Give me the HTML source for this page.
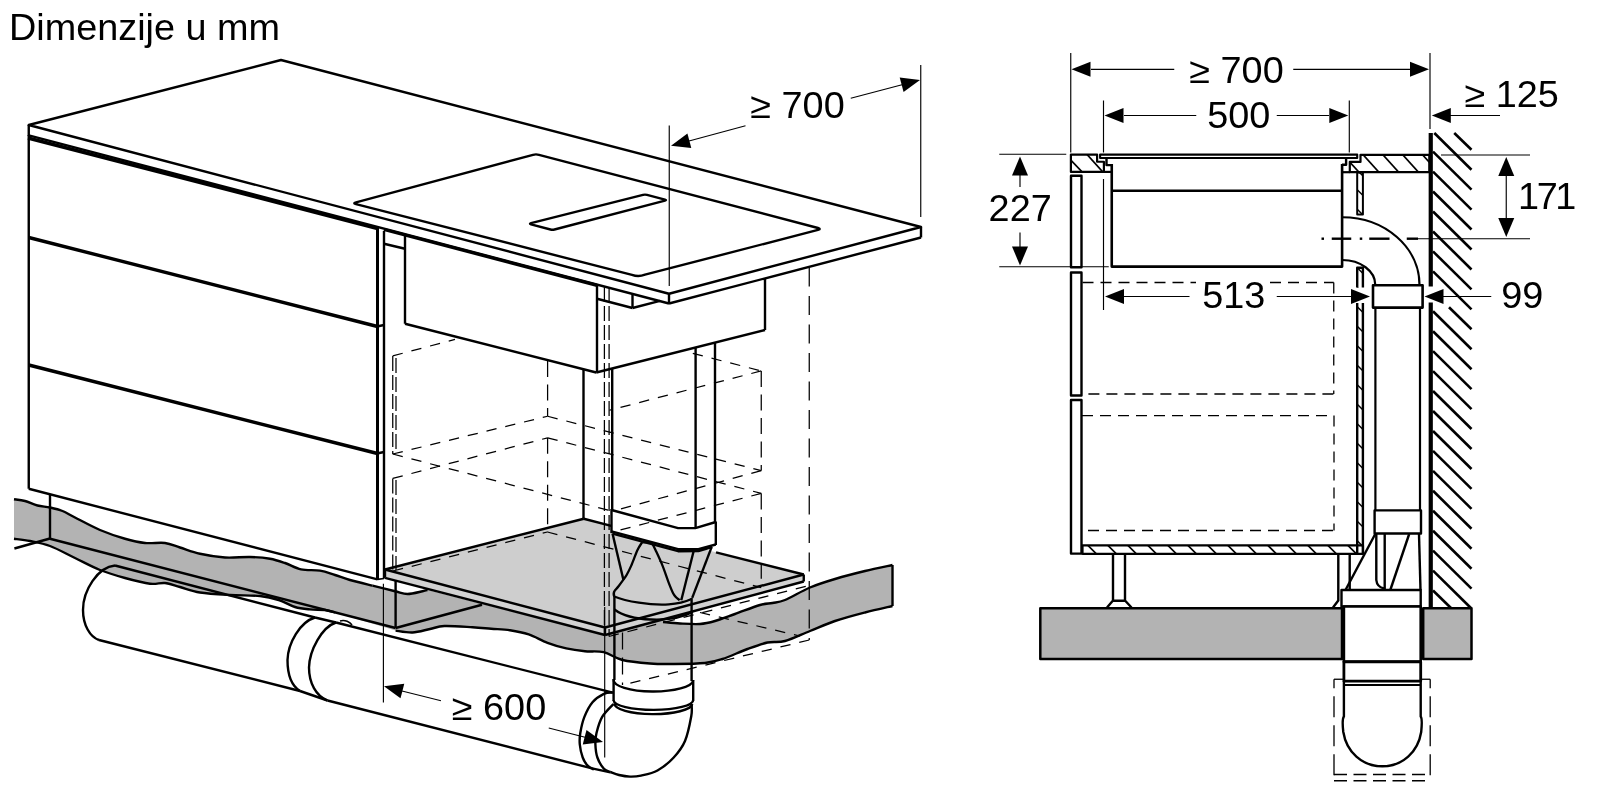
<!DOCTYPE html>
<html><head><meta charset="utf-8"><title>Dimenzije u mm</title>
<style>
html,body{margin:0;padding:0;background:#fff;overflow:hidden}
svg{display:block}
svg text{font-family:"Liberation Sans",sans-serif;fill:#000;stroke:none}
</style></head>
<body>
<svg width="1600" height="800" viewBox="0 0 1600 800" stroke="#000" fill="none" stroke-linecap="butt" stroke-linejoin="round">
<defs><filter id="idf" x="-5%" y="-20%" width="110%" height="140%"><feOffset dx="0" dy="0"/></filter></defs>
<rect x="0" y="0" width="1600" height="800" fill="#fff" stroke="none"/>
<!-- title -->
<text filter="url(#idf)" transform="translate(9,40) scale(1.045,1)" font-size="36.2">Dimenzije u mm</text>
<g id="left">
<path d="M14,499.25 C15.83,499.54 21.08,499.96 25,501 C28.92,502.04 33.33,504.42 37.5,505.5 C41.67,506.58 45.83,506.58 50,507.5 C54.17,508.42 58.33,509.33 62.5,511 C66.67,512.67 68.75,514.33 75,517.5 C81.25,520.67 91.67,526.46 100,530 C108.33,533.54 117.50,536.58 125,538.75 C132.50,540.92 138.33,542.29 145,543 C151.67,543.71 159.17,542.25 165,543 C170.83,543.75 174.17,545.71 180,547.5 C185.83,549.29 192.50,552.08 200,553.75 C207.50,555.42 216.67,556.96 225,557.5 C233.33,558.04 242.50,556.79 250,557 C257.50,557.21 264.17,557.75 270,558.75 C275.83,559.75 279.83,561.23 285,563 C290.17,564.77 295.17,568.13 301,569.4 C306.83,570.67 314.33,569.67 320,570.6 C325.67,571.53 330.00,573.43 335,575 C340.00,576.57 343.75,578.23 350,580 C356.25,581.77 365.00,583.73 372.5,585.6 C380.00,587.48 389.17,589.85 395,591.25 C400.83,592.65 402.92,594.00 407.5,594 C412.08,594.00 419.17,591.92 422.5,591.25 C425.83,590.58 426.67,590.21 427.5,590 L605,635 L663,619.5 L663,622 C665.83,622.25 673.83,623.17 680,623.5 C686.17,623.83 694.17,624.42 700,624 C705.83,623.58 709.17,622.67 715,621 C720.83,619.33 727.50,616.67 735,614 C742.50,611.33 753.75,606.83 760,605 C766.25,603.17 768.33,603.83 772.5,603 C776.67,602.17 778.75,602.58 785,600 C791.25,597.42 801.67,591.00 810,587.5 C818.33,584.00 825.83,581.75 835,579 C844.17,576.25 855.42,573.33 865,571 C874.58,568.67 887.92,566.00 892.5,565 L892.5,606 L892.5,606 C887.92,607.08 874.58,610.00 865,612.5 C855.42,615.00 844.17,617.92 835,621 C825.83,624.08 818.33,627.67 810,631 C801.67,634.33 792.08,639.08 785,641 C777.92,642.92 773.75,641.17 767.5,642.5 C761.25,643.83 755.00,646.25 747.5,649 C740.00,651.75 729.58,656.67 722.5,659 C715.42,661.33 713.33,662.17 705,663 C696.67,663.83 681.67,663.92 672.5,664 C663.33,664.08 658.33,664.17 650,663.5 C641.67,662.83 630.21,661.88 622.5,660 C614.79,658.12 610.00,653.66 603.75,652.2 C597.50,650.74 591.25,651.88 585,651.25 C578.75,650.62 572.50,649.81 566.25,648.4 C560.00,646.99 553.75,645.13 547.5,642.8 C541.25,640.47 535.00,636.49 528.75,634.4 C522.50,632.31 516.25,631.19 510,630.25 C503.75,629.31 497.50,629.25 491.25,628.75 C485.00,628.25 480.31,627.71 472.5,627.25 C464.69,626.79 451.48,625.71 444.4,626 C437.32,626.29 435.32,627.92 430,629 C424.68,630.08 418.23,632.23 412.5,632.5 C406.77,632.77 398.42,630.92 395.6,630.6 L335,612.5 L335,612.5 C333.33,612.08 329.17,610.52 325,610 C320.83,609.48 315.00,609.90 310,609.4 C305.00,608.90 300.21,608.57 295,607 C289.79,605.43 284.58,601.83 278.75,600 C272.92,598.17 268.12,596.83 260,596 C251.88,595.17 240.00,595.58 230,595 C220.00,594.42 208.33,593.83 200,592.5 C191.67,591.17 185.83,588.58 180,587 C174.17,585.42 170.00,583.54 165,583 C160.00,582.46 156.67,584.58 150,583.75 C143.33,582.92 133.33,580.29 125,578 C116.67,575.71 108.33,573.33 100,570 C91.67,566.67 83.33,562.00 75,558 C66.67,554.00 57.50,548.83 50,546 C42.50,543.17 36.00,542.21 30,541 C24.00,539.79 16.67,539.12 14,538.75 Z" stroke-width="0" fill="#b3b3b3" stroke="none"/>
<path d="M384,577 L395.6,580 L429,590 C420,592 410,594.5 395.6,591.25 L384,588 Z" stroke-width="0" fill="#fff" stroke="none"/>
<path d="M377,579 L395.6,580.6 L395.6,591.25 L377,586.5 Z" stroke-width="0" fill="#fff" stroke="none"/>
<path d="M385,569.5 L583.75,518.75 L803.75,574.5 L605,627.5 Z" stroke-width="0" fill="#cecece" stroke="none"/>
<path d="M385,569.5 L605,627.5 L803.75,574.5 L803.75,581.5 L605,635 L385,577 Z" stroke-width="0" fill="#d2d2d2" stroke="none"/>
<path d="M614.2,596.5 C626,601.5 650,605.5 668.75,604.4 C678,603.7 686,601.5 691.6,599 L692.8,612 C670,624 630,621 614.4,609.5 Z" stroke-width="0" fill="#d2d2d2" stroke="none"/>
<path d="M611.5,510 L678.1,528.1 L695.3,528.1 L715.8,522 L715.8,544.5 L698.4,549.2 L678.1,549.2 L611.5,531.3 Z" stroke-width="0" fill="#fff" stroke="none"/>
<path d="M583.5,500 L583.5,518.75 L611.25,526 L611.25,500 Z" stroke-width="0" fill="#fff" stroke="none"/>
<path d="M14,499.25 C15.83,499.54 21.08,499.96 25,501 C28.92,502.04 33.33,504.42 37.5,505.5 C41.67,506.58 45.83,506.58 50,507.5 C54.17,508.42 58.33,509.33 62.5,511 C66.67,512.67 68.75,514.33 75,517.5 C81.25,520.67 91.67,526.46 100,530 C108.33,533.54 117.50,536.58 125,538.75 C132.50,540.92 138.33,542.29 145,543 C151.67,543.71 159.17,542.25 165,543 C170.83,543.75 174.17,545.71 180,547.5 C185.83,549.29 192.50,552.08 200,553.75 C207.50,555.42 216.67,556.96 225,557.5 C233.33,558.04 242.50,556.79 250,557 C257.50,557.21 264.17,557.75 270,558.75 C275.83,559.75 279.83,561.23 285,563 C290.17,564.77 295.17,568.13 301,569.4 C306.83,570.67 314.33,569.67 320,570.6 C325.67,571.53 330.00,573.43 335,575 C340.00,576.57 343.75,578.23 350,580 C356.25,581.77 368.75,584.67 372.5,585.6" stroke-width="2.4" fill="none" />
<path d="M372.5,585.6 C376.25,586.54 389.17,589.85 395,591.25 C400.83,592.65 402.92,594.00 407.5,594 C412.08,594.00 419.17,591.92 422.5,591.25 C425.83,590.58 426.67,590.21 427.5,590" stroke-width="2.4" fill="none" />
<path d="M14,538.75 C16.67,539.12 24.00,539.79 30,541 C36.00,542.21 42.50,543.17 50,546 C57.50,548.83 66.67,554.00 75,558 C83.33,562.00 91.67,566.67 100,570 C108.33,573.33 116.67,575.71 125,578 C133.33,580.29 143.33,582.92 150,583.75 C156.67,584.58 160.00,582.46 165,583 C170.00,583.54 174.17,585.42 180,587 C185.83,588.58 191.67,591.17 200,592.5 C208.33,593.83 220.00,594.42 230,595 C240.00,595.58 251.88,595.17 260,596 C268.12,596.83 272.92,598.17 278.75,600 C284.58,601.83 289.79,605.43 295,607 C300.21,608.57 305.00,608.90 310,609.4 C315.00,609.90 320.83,609.48 325,610 C329.17,610.52 333.33,612.08 335,612.5" stroke-width="2.4" fill="none" />
<path d="M395.6,630.6 C398.42,630.92 406.77,632.77 412.5,632.5 C418.23,632.23 424.68,630.08 430,629 C435.32,627.92 437.32,626.29 444.4,626 C451.48,625.71 464.69,626.79 472.5,627.25 C480.31,627.71 485.00,628.25 491.25,628.75 C497.50,629.25 503.75,629.31 510,630.25 C516.25,631.19 522.50,632.31 528.75,634.4 C535.00,636.49 541.25,640.47 547.5,642.8 C553.75,645.13 560.00,646.99 566.25,648.4 C572.50,649.81 578.75,650.62 585,651.25 C591.25,651.88 597.50,650.74 603.75,652.2 C610.00,653.66 614.79,658.12 622.5,660 C630.21,661.88 641.67,662.83 650,663.5 C658.33,664.17 663.33,664.08 672.5,664 C681.67,663.92 696.67,663.83 705,663 C713.33,662.17 715.42,661.33 722.5,659 C729.58,656.67 740.00,651.75 747.5,649 C755.00,646.25 761.25,643.83 767.5,642.5 C773.75,641.17 777.92,642.92 785,641 C792.08,639.08 801.67,634.33 810,631 C818.33,627.67 825.83,624.08 835,621 C844.17,617.92 855.42,615.00 865,612.5 C874.58,610.00 887.92,607.08 892.5,606" stroke-width="2.4" fill="none" />
<path d="M892.5,565 C887.92,566.00 874.58,568.67 865,571 C855.42,573.33 844.17,576.25 835,579 C825.83,581.75 818.33,584.00 810,587.5 C801.67,591.00 791.25,597.42 785,600 C778.75,602.58 776.67,602.17 772.5,603 C768.33,603.83 766.25,603.17 760,605 C753.75,606.83 742.50,611.33 735,614 C727.50,616.67 720.83,619.33 715,621 C709.17,622.67 705.83,623.58 700,624 C694.17,624.42 686.17,623.83 680,623.5 C673.83,623.17 665.83,622.25 663,622" stroke-width="2.4" fill="none" />
<line x1="892.5" y1="565" x2="892.5" y2="606" stroke-width="2.4" />
<path d="M28.75,125 L281,60 L921,227 L669,293.75 Z" stroke-width="2.4" fill="none" />
<line x1="28.75" y1="125" x2="28.75" y2="136" stroke-width="2.4" />
<line x1="669" y1="293.75" x2="669" y2="303.5" stroke-width="2.4" />
<line x1="921" y1="227" x2="921" y2="237.5" stroke-width="2.4" />
<line x1="28.75" y1="135.3" x2="669" y2="303.5" stroke-width="2.4" />
<line x1="669" y1="303.5" x2="921" y2="237.5" stroke-width="2.4" />
<path d="M356,202.3 L533,154.8 Q536,154 539,154.8 L818,228 Q821.5,229 818,229.9 L645,274.7 Q638.5,277.2 632,274.9 L356,204.1 Q352.5,203.2 356,202.3 Z" stroke-width="2.4" fill="none" />
<path d="M531,223.2 L643,194.9 Q645,194.4 647,194.9 L665,199.6 Q667,200.1 665,200.6 L554.5,229.5 Q552.5,230 550.5,229.5 L531,224.3 Q529,223.75 531,223.2 Z" stroke-width="2.4" fill="none" />
<line x1="28.75" y1="135" x2="28.75" y2="488.75" stroke-width="2.4" />
<line x1="28" y1="138" x2="377.5" y2="228.5" stroke-width="3.4" />
<line x1="28.75" y1="237.5" x2="377.5" y2="326.5" stroke-width="3.4" />
<line x1="28.75" y1="365" x2="377.5" y2="453.5" stroke-width="3.4" />
<line x1="28.75" y1="488.75" x2="377.5" y2="579.4" stroke-width="2.4" />
<line x1="377.5" y1="227" x2="377.5" y2="580" stroke-width="3" />
<line x1="384" y1="231" x2="384" y2="578.5" stroke-width="2.4" />
<line x1="377.5" y1="579.4" x2="384" y2="578.5" stroke-width="1.6" />
<line x1="377" y1="326.5" x2="384" y2="325" stroke-width="2.4" />
<line x1="377" y1="453.5" x2="384" y2="452" stroke-width="2.4" />
<line x1="50" y1="494" x2="50" y2="538.75" stroke-width="2.4" />
<line x1="14.4" y1="548.5" x2="50" y2="538.5" stroke-width="2.4" />
<line x1="50" y1="538.75" x2="395.6" y2="628" stroke-width="2.4" />
<line x1="395.6" y1="580.6" x2="395.6" y2="628" stroke-width="2.4" />
<line x1="395.6" y1="628" x2="482" y2="604.75" stroke-width="2.4" />
<line x1="384" y1="243.75" x2="405" y2="248.75" stroke-width="2.4" />
<line x1="405" y1="235" x2="405" y2="323.75" stroke-width="2.4" />
<line x1="384" y1="229.5" x2="597" y2="285.4" stroke-width="3.2" />
<line x1="405" y1="323.75" x2="596.25" y2="372.5" stroke-width="2.4" />
<line x1="597" y1="284.5" x2="597" y2="372.5" stroke-width="2.4" />
<line x1="596.25" y1="372.5" x2="765" y2="330" stroke-width="2.4" />
<line x1="765" y1="279" x2="765" y2="330" stroke-width="2.4" />
<line x1="597" y1="298.75" x2="632.5" y2="308" stroke-width="2.4" />
<line x1="632.5" y1="294.5" x2="632.5" y2="308" stroke-width="2.4" />
<line x1="632.5" y1="308" x2="660" y2="300.8" stroke-width="2.4" />
<line x1="583.5" y1="370" x2="583.5" y2="518.75" stroke-width="2.4" />
<line x1="612.2" y1="369" x2="612.2" y2="510" stroke-width="2.4" />
<line x1="695.6" y1="348" x2="695.6" y2="528" stroke-width="2.4" />
<line x1="715" y1="343" x2="715" y2="522.5" stroke-width="2.4" />
<path d="M611.5,510 L678.1,528.1 L695.3,528.1 L715.8,522" stroke-width="2.4" fill="none" />
<path d="M611.5,531.3 L678.1,549.2 L698.4,549.2 L715.8,544.5" stroke-width="2.4" fill="none" />
<line x1="611.5" y1="509" x2="611.5" y2="533" stroke-width="2.4" />
<line x1="715.8" y1="521.5" x2="715.8" y2="545" stroke-width="2.4" />
<path d="M612.5,533.6 L678.1,551.2 L698.4,551 L712,547.2" stroke-width="2.4" fill="none" />
<path d="M612.5,533.5 L623.4,579.7" stroke-width="2.4" fill="none" />
<path d="M642.2,542.2 C641.42,543.50 639.33,546.10 637.5,550 C635.67,553.90 633.07,561.43 631.25,565.6 C629.43,569.77 627.91,572.65 626.6,575 C625.29,577.35 624.71,577.87 623.4,579.7 C622.09,581.53 620.18,584.18 618.75,586 C617.32,587.82 615.46,589.83 614.8,590.6 C613.4,592.5 613.6,595 614.2,596.5" stroke-width="2.3" fill="none" />
<path d="M642.2,542.2 L651.6,542.2" stroke-width="2.4" fill="none" />
<path d="M651.6,542.2 C652.25,543.50 653.68,546.10 655.5,550 C657.32,553.90 660.29,560.13 662.5,565.6 C664.71,571.07 666.93,578.11 668.75,582.8 C670.57,587.49 672.09,591.27 673.4,593.75 C674.71,596.23 675.55,596.62 676.6,597.7 C677.65,598.78 679.18,599.78 679.7,600.2" stroke-width="2.3" fill="none" />
<line x1="693.75" y1="550.8" x2="681.25" y2="600.3" stroke-width="2.4" />
<line x1="711.7" y1="546.9" x2="692.2" y2="597.9" stroke-width="2.4" />
<path d="M614.2,596.5 C626,601.5 650,605.5 668.75,604.4 C678,603.7 686,601.5 691.6,599" stroke-width="2.3" fill="none" />
<path d="M614.4,609.5 C630,621 670,624 692.8,612" stroke-width="2.4" fill="none" />
<line x1="614.4" y1="596" x2="614.4" y2="680" stroke-width="2.4" />
<line x1="691.6" y1="598" x2="691.6" y2="681" stroke-width="2.4" />
<line x1="385" y1="569.5" x2="583.75" y2="518.75" stroke-width="2.4" />
<line x1="583.75" y1="518.75" x2="611.25" y2="525.8" stroke-width="2.4" />
<line x1="716" y1="552.3" x2="803.75" y2="574.5" stroke-width="2.4" />
<line x1="803.75" y1="574.5" x2="605" y2="627.5" stroke-width="2.4" />
<line x1="385" y1="569.5" x2="605" y2="627.5" stroke-width="2.4" />
<line x1="385" y1="569.5" x2="385" y2="577" stroke-width="2.4" />
<line x1="385" y1="577.8" x2="605" y2="635" stroke-width="2.4" />
<line x1="605" y1="627.5" x2="605" y2="635" stroke-width="2.4" />
<line x1="605" y1="635" x2="803.75" y2="581.5" stroke-width="2.4" />
<line x1="803.75" y1="574.5" x2="803.75" y2="581.5" stroke-width="2.4" />
<path d="M613.6,679.5 A39.8,11.6 0 0 0 693.2,680.3" stroke-width="2.4" fill="none" />
<line x1="613.6" y1="679" x2="613.6" y2="701" stroke-width="2.4" />
<line x1="693.2" y1="680" x2="693.2" y2="700.5" stroke-width="2.4" />
<path d="M613.6,700.2 A39.8,9.8 0 0 0 693.2,700" stroke-width="2.4" fill="none" />
<path d="M614.6,703.4 A38.8,10.4 0 0 0 692.2,704" stroke-width="2.4" fill="none" />
<path d="M691.6,704.7 C691.55,706.58 692.40,709.95 691.3,716 C690.20,722.05 687.93,734.08 685,741 C682.07,747.92 678.28,752.58 673.7,757.5 C669.12,762.42 662.95,767.48 657.5,770.5 C652.05,773.52 645.58,774.58 641,775.6 C636.42,776.62 633.67,776.70 630,776.6 C626.33,776.50 622.27,775.77 619,775 C615.73,774.23 611.83,772.50 610.4,772" stroke-width="2.4" fill="none" />
<path d="M612.8,692.5 C611.32,692.72 607.28,692.18 603.9,693.8 C600.52,695.42 595.75,698.35 592.5,702.2 C589.25,706.05 586.43,711.77 584.4,716.9 C582.37,722.03 581.07,728.40 580.3,733 C579.53,737.60 579.40,740.42 579.8,744.5 C580.20,748.58 581.40,753.98 582.7,757.5 C584.00,761.02 585.72,763.58 587.6,765.6 C589.48,767.62 592.93,768.93 594,769.6" stroke-width="2.4" fill="none" />
<path d="M613.5,704 C611.62,706.15 605.03,712.07 602.2,716.9 C599.37,721.73 597.63,728.40 596.5,733 C595.37,737.60 595.25,740.42 595.4,744.5 C595.55,748.58 595.98,753.45 597.4,757.5 C598.82,761.55 601.73,766.38 603.9,768.8 C606.07,771.22 609.32,771.47 610.4,772" stroke-width="2.4" fill="none" />
<line x1="592" y1="768.4" x2="610.4" y2="772.3" stroke-width="2.4" />
<path d="M115,565.5 C98,567 83,590 83,610 C83,625 90,637 99,640" stroke-width="2.4" fill="none" />
<line x1="115" y1="565.5" x2="315" y2="617.5" stroke-width="2.4" />
<line x1="99" y1="640" x2="300" y2="691" stroke-width="2.4" />
<path d="M315,617.5 C300,622 288,643 287.5,660 C287.5,675 292,686 300,691" stroke-width="2.4" fill="none" />
<path d="M336,622.5 C322,627 309.5,650 309,667.5 C309,683 316,696 327.5,700.5" stroke-width="2.4" fill="none" />
<line x1="315" y1="617.5" x2="336" y2="622.5" stroke-width="2.4" />
<line x1="300" y1="691" x2="327.5" y2="700.5" stroke-width="2.4" />
<line x1="336" y1="622.5" x2="612.8" y2="692.7" stroke-width="2.4" />
<line x1="327.5" y1="700.5" x2="592" y2="768.4" stroke-width="2.4" />
<path d="M340,621 C345,619.5 350,622 352,625" stroke-width="1.6" fill="none" />
<line x1="392.75" y1="355.9" x2="455" y2="339.4" stroke-width="1.25" stroke-dasharray="10.3 9" stroke-dashoffset="0"/>
<line x1="392.75" y1="356" x2="392.75" y2="454" stroke-width="1.25" stroke-dasharray="15 4" stroke-dashoffset="0"/>
<line x1="396" y1="358" x2="396" y2="453" stroke-width="1.25" stroke-dasharray="15 4" stroke-dashoffset="0"/>
<line x1="392.75" y1="454" x2="547.6" y2="416.25" stroke-width="1.25" stroke-dasharray="10.3 9" stroke-dashoffset="0"/>
<line x1="547.6" y1="361" x2="547.6" y2="416.25" stroke-width="1.25" stroke-dasharray="16 7.5" stroke-dashoffset="0"/>
<line x1="547.6" y1="416.25" x2="761.25" y2="470.6" stroke-width="1.25" stroke-dasharray="10.3 9" stroke-dashoffset="0"/>
<line x1="392.75" y1="454" x2="612.5" y2="511.25" stroke-width="1.25" stroke-dasharray="10.3 9" stroke-dashoffset="0"/>
<line x1="761.25" y1="470.6" x2="612.5" y2="511.25" stroke-width="1.25" stroke-dasharray="10.3 9" stroke-dashoffset="0"/>
<line x1="692.8" y1="353.4" x2="761.25" y2="370.9" stroke-width="1.25" stroke-dasharray="10.3 9" stroke-dashoffset="0"/>
<line x1="761.25" y1="370.9" x2="609.4" y2="410.25" stroke-width="1.25" stroke-dasharray="10.3 9" stroke-dashoffset="0"/>
<line x1="761.25" y1="370.9" x2="761.25" y2="470.6" stroke-width="1.25" stroke-dasharray="16 7.5" stroke-dashoffset="0"/>
<line x1="392.75" y1="478.4" x2="547.6" y2="437.8" stroke-width="1.25" stroke-dasharray="10.3 9" stroke-dashoffset="0"/>
<line x1="392.75" y1="478.4" x2="392.75" y2="571" stroke-width="1.25" stroke-dasharray="15 4" stroke-dashoffset="0"/>
<line x1="396" y1="480" x2="396" y2="570" stroke-width="1.25" stroke-dasharray="15 4" stroke-dashoffset="0"/>
<line x1="547.6" y1="437.8" x2="547.6" y2="532" stroke-width="1.25" stroke-dasharray="16 7.5" stroke-dashoffset="0"/>
<line x1="547.6" y1="437.8" x2="761.25" y2="493.4" stroke-width="1.25" stroke-dasharray="10.3 9" stroke-dashoffset="0"/>
<line x1="761.25" y1="493.4" x2="612.5" y2="532" stroke-width="1.25" stroke-dasharray="10.3 9" stroke-dashoffset="0"/>
<line x1="761.25" y1="493.4" x2="761.25" y2="578.75" stroke-width="1.25" stroke-dasharray="16 7.5" stroke-dashoffset="0"/>
<line x1="393" y1="571" x2="547.4" y2="532" stroke-width="1.25" stroke-dasharray="10.3 9" stroke-dashoffset="0"/>
<line x1="547.4" y1="532" x2="761.25" y2="587.6" stroke-width="1.25" stroke-dasharray="10.3 9" stroke-dashoffset="0"/>
<line x1="604.4" y1="287" x2="604.4" y2="636" stroke-width="1.25" stroke-dasharray="15 4" stroke-dashoffset="0"/>
<line x1="609.1" y1="287" x2="609.1" y2="636" stroke-width="1.25" stroke-dasharray="15 4" stroke-dashoffset="0"/>
<line x1="809.25" y1="267.5" x2="809.25" y2="640" stroke-width="1.25" stroke-dasharray="19 9.5" stroke-dashoffset="0"/>
<line x1="809.25" y1="640" x2="622.5" y2="685" stroke-width="1.25" stroke-dasharray="10.3 9" stroke-dashoffset="0"/>
<line x1="622.5" y1="632.5" x2="622.5" y2="685" stroke-width="1.25" stroke-dasharray="17 8" stroke-dashoffset="0"/>
<line x1="608.75" y1="636.5" x2="809.25" y2="585.5" stroke-width="1.25" stroke-dasharray="10.3 9" stroke-dashoffset="0"/>
<line x1="700" y1="612.5" x2="800" y2="636" stroke-width="1.25" stroke-dasharray="10.3 9" stroke-dashoffset="0"/>
<line x1="669.25" y1="125.5" x2="669.25" y2="286" stroke-width="1.15" />
<line x1="920.75" y1="65" x2="920.75" y2="217" stroke-width="1.15" />
<polygon points="671.00,145.70 687.44,133.58 691.29,148.08" fill="#000" stroke="none"/>
<line x1="689" y1="141" x2="745.5" y2="125.75" stroke-width="1.15" />
<polygon points="920.00,80.00 903.56,92.12 899.71,77.62" fill="#000" stroke="none"/>
<line x1="850.75" y1="98.3" x2="902" y2="84.8" stroke-width="1.15" />
<text filter="url(#idf)" transform="translate(750.3,118) scale(1.045,1)" font-size="36.2">≥ 700</text>
<line x1="383.4" y1="583.75" x2="383.4" y2="702.5" stroke-width="1.15" />
<line x1="604.7" y1="607" x2="604.7" y2="757.5" stroke-width="1.15" />
<polygon points="384.00,686.30 404.28,683.82 400.50,698.34" fill="#000" stroke="none"/>
<line x1="402" y1="691" x2="441" y2="700.75" stroke-width="1.15" />
<polygon points="603.00,742.00 582.72,744.48 586.50,729.96" fill="#000" stroke="none"/>
<line x1="548.75" y1="728" x2="585" y2="737.3" stroke-width="1.15" />
<text filter="url(#idf)" transform="translate(451.8,719.5) scale(1.045,1)" font-size="36.2">≥ 600</text>
</g>
<g id="right">
<rect x="1040.3" y="608.2" width="301.7" height="50.8" fill="#b3b3b3" stroke-width="2.5"/>
<rect x="1423.2" y="608.2" width="48.3" height="50.8" fill="#b3b3b3" stroke-width="2.5"/>
<line x1="1430.75" y1="133" x2="1430.75" y2="286.5" stroke-width="4.2" />
<line x1="1430.75" y1="302.5" x2="1430.75" y2="608" stroke-width="4.2" />
<line x1="1454.25" y1="133" x2="1471.5" y2="149.75" stroke-width="2.6" />
<line x1="1434.3" y1="133" x2="1471.5" y2="169.7" stroke-width="2.6" />
<line x1="1433" y1="151.65" x2="1471.5" y2="189.65" stroke-width="2.6" />
<line x1="1433" y1="171.6" x2="1471.5" y2="209.6" stroke-width="2.6" />
<line x1="1433" y1="191.55" x2="1471.5" y2="229.55" stroke-width="2.6" />
<line x1="1433" y1="211.5" x2="1471.5" y2="249.5" stroke-width="2.6" />
<line x1="1433" y1="231.45" x2="1471.5" y2="269.45" stroke-width="2.6" />
<line x1="1433" y1="251.39999999999998" x2="1471.5" y2="289.4" stroke-width="2.6" />
<line x1="1433" y1="271.35" x2="1471.5" y2="309.35" stroke-width="2.6" />
<line x1="1449" y1="307.29999999999995" x2="1471.5" y2="329.29999999999995" stroke-width="2.6" />
<line x1="1433" y1="311.25" x2="1471.5" y2="349.25" stroke-width="2.6" />
<line x1="1433" y1="331.2" x2="1471.5" y2="369.2" stroke-width="2.6" />
<line x1="1433" y1="351.15" x2="1471.5" y2="389.15" stroke-width="2.6" />
<line x1="1433" y1="371.09999999999997" x2="1471.5" y2="409.09999999999997" stroke-width="2.6" />
<line x1="1433" y1="391.05" x2="1471.5" y2="429.05" stroke-width="2.6" />
<line x1="1433" y1="411.0" x2="1471.5" y2="449.0" stroke-width="2.6" />
<line x1="1433" y1="430.95" x2="1471.5" y2="468.95" stroke-width="2.6" />
<line x1="1433" y1="450.9" x2="1471.5" y2="488.9" stroke-width="2.6" />
<line x1="1433" y1="470.84999999999997" x2="1471.5" y2="508.84999999999997" stroke-width="2.6" />
<line x1="1433" y1="490.79999999999995" x2="1471.5" y2="528.8" stroke-width="2.6" />
<line x1="1433" y1="510.75" x2="1471.5" y2="548.75" stroke-width="2.6" />
<line x1="1433" y1="530.7" x2="1471.5" y2="568.7" stroke-width="2.6" />
<line x1="1433" y1="550.65" x2="1471.5" y2="588.65" stroke-width="2.6" />
<line x1="1433" y1="570.5999999999999" x2="1470.9" y2="608" stroke-width="2.6" />
<line x1="1433" y1="590.55" x2="1450.95" y2="608" stroke-width="2.6" />
<line x1="1070.75" y1="53" x2="1070.75" y2="152.5" stroke-width="1.15" />
<line x1="1430" y1="53" x2="1430" y2="129" stroke-width="1.15" />
<line x1="1091" y1="69.3" x2="1174.25" y2="69.3" stroke-width="1.15" />
<line x1="1293.25" y1="69.3" x2="1410" y2="69.3" stroke-width="1.15" />
<polygon points="1071.50,69.30 1090.50,61.80 1090.50,76.80" fill="#000" stroke="none"/>
<polygon points="1429.00,69.30 1410.00,76.80 1410.00,61.80" fill="#000" stroke="none"/>
<text filter="url(#idf)" transform="translate(1189.3,82.5) scale(1.045,1)" font-size="36.2">≥ 700</text>
<line x1="1103.5" y1="100.5" x2="1103.5" y2="152.5" stroke-width="1.15" />
<line x1="1103.5" y1="179" x2="1103.5" y2="310" stroke-width="1.15" />
<line x1="1349.3" y1="100.5" x2="1349.3" y2="152.5" stroke-width="1.15" />
<line x1="1124" y1="115.5" x2="1196.25" y2="115.5" stroke-width="1.15" />
<line x1="1276.75" y1="115.5" x2="1329" y2="115.5" stroke-width="1.15" />
<polygon points="1104.50,115.50 1123.50,108.00 1123.50,123.00" fill="#000" stroke="none"/>
<polygon points="1348.30,115.50 1329.30,123.00 1329.30,108.00" fill="#000" stroke="none"/>
<text filter="url(#idf)" transform="translate(1207.3,128) scale(1.045,1)" font-size="36.2">500</text>
<polygon points="1431.80,115.50 1450.80,108.00 1450.80,123.00" fill="#000" stroke="none"/>
<line x1="1450" y1="115.5" x2="1500" y2="115.5" stroke-width="1.15" />
<text filter="url(#idf)" transform="translate(1464.5,107) scale(1.045,1)" font-size="36.2">≥ 125</text>
<line x1="999.25" y1="154.25" x2="1066.25" y2="154.25" stroke-width="1.15" />
<line x1="999.25" y1="266.75" x2="1108.75" y2="266.75" stroke-width="1.15" />
<polygon points="1020.00,156.50 1028.00,175.50 1012.00,175.50" fill="#000" stroke="none"/>
<line x1="1020" y1="175" x2="1020" y2="187" stroke-width="1.15" />
<polygon points="1020.00,265.50 1012.00,246.50 1028.00,246.50" fill="#000" stroke="none"/>
<line x1="1020" y1="232.5" x2="1020" y2="247.5" stroke-width="1.15" />
<text filter="url(#idf)" transform="translate(988.6,220.8) scale(1.045,1)" font-size="36.2">227</text>
<line x1="1441" y1="155" x2="1530" y2="155" stroke-width="1.15" />
<line x1="1418" y1="238.75" x2="1530" y2="238.75" stroke-width="1.15" />
<polygon points="1506.25,157.00 1514.25,176.00 1498.25,176.00" fill="#000" stroke="none"/>
<polygon points="1506.25,237.00 1498.25,218.00 1514.25,218.00" fill="#000" stroke="none"/>
<line x1="1506.25" y1="175" x2="1506.25" y2="219" stroke-width="1.15" />
<text filter="url(#idf)" transform="translate(1518,208.75) scale(1.045,1)" font-size="36.2" letter-spacing="-2.3">171</text>
<line x1="1124" y1="296.5" x2="1189.5" y2="296.5" stroke-width="1.15" />
<line x1="1276.75" y1="296.5" x2="1352" y2="296.5" stroke-width="1.15" />
<polygon points="1105.00,296.50 1124.00,289.00 1124.00,304.00" fill="#000" stroke="none"/>
<text filter="url(#idf)" transform="translate(1202.3,308.3) scale(1.045,1)" font-size="36.2">513</text>
<line x1="1443" y1="296.5" x2="1491.25" y2="296.5" stroke-width="1.15" />
<text filter="url(#idf)" transform="translate(1501.3,308.3) scale(1.045,1)" font-size="36.2">99</text>
<clipPath id="cwl"><path d="M1070.9,154.6 L1097.1,154.6 L1097.1,161.75 L1103.9,161.75 L1103.9,171.9 L1070.9,171.9 Z"/></clipPath>
<g clip-path="url(#cwl)">
<line x1="1067" y1="156" x2="1086" y2="176" stroke-width="1.7" />
<line x1="1083" y1="150" x2="1106" y2="175.5" stroke-width="1.7" />
</g>
<path d="M1070.9,154.6 L1097.1,154.6 L1097.1,161.75 L1103.9,161.75 L1103.9,171.9 L1070.9,171.9 Z" stroke-width="2.2" fill="none" />
<line x1="1103.9" y1="171.9" x2="1111.75" y2="171.9" stroke-width="2.2" />
<clipPath id="cwr"><path d="M1360.5,154.85 L1429.4,154.85 L1429.4,172.2 L1349.8,172.2 L1349.8,161.9 L1360.5,161.9 Z"/></clipPath>
<g clip-path="url(#cwr)">
<line x1="1341.9" y1="153.3" x2="1361.9" y2="175.4" stroke-width="1.7" />
<line x1="1361.8" y1="153.3" x2="1381.8" y2="175.4" stroke-width="1.7" />
<line x1="1381.6" y1="153.3" x2="1401.6" y2="175.4" stroke-width="1.7" />
<line x1="1401.4" y1="153.3" x2="1421.4" y2="175.4" stroke-width="1.7" />
<line x1="1421.2" y1="153.3" x2="1441.2" y2="175.4" stroke-width="1.7" />
</g>
<path d="M1360.5,154.85 L1429.4,154.85 L1429.4,172.2 L1349.8,172.2 L1349.8,161.9 L1360.5,161.9 Z" stroke-width="2.2" fill="none" />
<line x1="1342" y1="172.2" x2="1349.8" y2="172.2" stroke-width="2.2" />
<rect x="1100.1" y="154.6" width="257.1" height="3.4" fill="#fff" stroke-width="2.1"/>
<path d="M1106.5,158.9 L1106.5,165.1 L1111.75,165.1" stroke-width="2.4" fill="none" />
<path d="M1346.1,158.9 L1346.1,164.75 L1342,164.75" stroke-width="2.4" fill="none" />
<path d="M1111.75,164 L1111.75,266.6 L1342.1,266.6 L1342.1,164" stroke-width="2.6" fill="none" />
<line x1="1111.75" y1="190.7" x2="1342.1" y2="190.7" stroke-width="2.6" />
<rect x="1071" y="175.75" width="10.5" height="91.5" stroke-width="2.4" fill="#fff"/>
<rect x="1071" y="272.5" width="10.5" height="123" stroke-width="2.4" fill="#fff"/>
<rect x="1071" y="400" width="10.5" height="153.6" stroke-width="2.4" fill="#fff"/>
<rect x="1082.5" y="545.4" width="280.5" height="8.4" stroke-width="2.2" fill="#fff"/>
<clipPath id="ccb"><rect x="1082.5" y="545.4" width="274" height="8.4"/></clipPath><g clip-path="url(#ccb)">
<line x1="1065.5" y1="543" x2="1078.5" y2="556" stroke-width="1.7" />
<line x1="1085.5" y1="543" x2="1098.5" y2="556" stroke-width="1.7" />
<line x1="1105.5" y1="543" x2="1118.5" y2="556" stroke-width="1.7" />
<line x1="1125.5" y1="543" x2="1138.5" y2="556" stroke-width="1.7" />
<line x1="1145.5" y1="543" x2="1158.5" y2="556" stroke-width="1.7" />
<line x1="1165.5" y1="543" x2="1178.5" y2="556" stroke-width="1.7" />
<line x1="1185.5" y1="543" x2="1198.5" y2="556" stroke-width="1.7" />
<line x1="1205.5" y1="543" x2="1218.5" y2="556" stroke-width="1.7" />
<line x1="1225.5" y1="543" x2="1238.5" y2="556" stroke-width="1.7" />
<line x1="1245.5" y1="543" x2="1258.5" y2="556" stroke-width="1.7" />
<line x1="1265.5" y1="543" x2="1278.5" y2="556" stroke-width="1.7" />
<line x1="1285.5" y1="543" x2="1298.5" y2="556" stroke-width="1.7" />
<line x1="1305.5" y1="543" x2="1318.5" y2="556" stroke-width="1.7" />
<line x1="1325.5" y1="543" x2="1338.5" y2="556" stroke-width="1.7" />
<line x1="1345.5" y1="543" x2="1358.5" y2="556" stroke-width="1.7" />
<line x1="1365.5" y1="543" x2="1378.5" y2="556" stroke-width="1.7" />
</g>
<clipPath id="cbp"><rect x="1357" y="172.5" width="6" height="42.0"/><rect x="1357" y="267.8" width="6" height="19.69999999999999"/><rect x="1357" y="303" width="6" height="250.60000000000002"/></clipPath><g clip-path="url(#cbp)">
<line x1="1355" y1="168" x2="1365" y2="178" stroke-width="1.5" />
<line x1="1355" y1="187.5" x2="1365" y2="197.5" stroke-width="1.5" />
<line x1="1355" y1="207.0" x2="1365" y2="217.0" stroke-width="1.5" />
<line x1="1355" y1="226.5" x2="1365" y2="236.5" stroke-width="1.5" />
<line x1="1355" y1="246.0" x2="1365" y2="256.0" stroke-width="1.5" />
<line x1="1355" y1="265.5" x2="1365" y2="275.5" stroke-width="1.5" />
<line x1="1355" y1="285.0" x2="1365" y2="295.0" stroke-width="1.5" />
<line x1="1355" y1="304.5" x2="1365" y2="314.5" stroke-width="1.5" />
<line x1="1355" y1="324.0" x2="1365" y2="334.0" stroke-width="1.5" />
<line x1="1355" y1="343.5" x2="1365" y2="353.5" stroke-width="1.5" />
<line x1="1355" y1="363.0" x2="1365" y2="373.0" stroke-width="1.5" />
<line x1="1355" y1="382.5" x2="1365" y2="392.5" stroke-width="1.5" />
<line x1="1355" y1="402.0" x2="1365" y2="412.0" stroke-width="1.5" />
<line x1="1355" y1="421.5" x2="1365" y2="431.5" stroke-width="1.5" />
<line x1="1355" y1="441.0" x2="1365" y2="451.0" stroke-width="1.5" />
<line x1="1355" y1="460.5" x2="1365" y2="470.5" stroke-width="1.5" />
<line x1="1355" y1="480.0" x2="1365" y2="490.0" stroke-width="1.5" />
<line x1="1355" y1="499.5" x2="1365" y2="509.5" stroke-width="1.5" />
<line x1="1355" y1="519.0" x2="1365" y2="529.0" stroke-width="1.5" />
<line x1="1355" y1="538.5" x2="1365" y2="548.5" stroke-width="1.5" />
</g>
<path d="M1357.2,287.5 L1357.2,267.8 L1362.9,267.8 L1362.9,287.5" stroke-width="2.4" fill="none" />
<path d="M1357.2,303 L1357.2,553.6 M1362.9,303 L1362.9,553.6" stroke-width="2.4" fill="none" />
<rect x="1357.2" y="172.5" width="5.7" height="42" stroke-width="2"/>
<polygon points="1370.00,296.50 1351.00,304.00 1351.00,289.00" fill="#000" stroke="none"/>
<path d="M1113,554 L1113,600.5 L1107,607.5 M1125,554 L1125,600.5 L1131.5,607.5 M1113,600.7 L1125,600.7" stroke-width="2.4" fill="none" />
<path d="M1338.3,554 L1338.3,600.5 L1333,607.5 M1349.7,554 L1349.7,590" stroke-width="2.4" fill="none" />
<line x1="1082.5" y1="282.5" x2="1196" y2="282.5" stroke-width="1.3" stroke-dasharray="11 7" stroke-dashoffset="0"/>
<line x1="1270" y1="282.5" x2="1333.75" y2="282.5" stroke-width="1.3" stroke-dasharray="11 7" stroke-dashoffset="0"/>
<line x1="1333.75" y1="282.5" x2="1333.75" y2="394" stroke-width="1.3" stroke-dasharray="11 7" stroke-dashoffset="0"/>
<line x1="1088.4" y1="394" x2="1334" y2="394" stroke-width="1.3" stroke-dasharray="11 7" stroke-dashoffset="0"/>
<line x1="1082" y1="415.6" x2="1334" y2="415.6" stroke-width="1.3" stroke-dasharray="11 7" stroke-dashoffset="0"/>
<line x1="1334" y1="415.6" x2="1334" y2="530.5" stroke-width="1.3" stroke-dasharray="11 7" stroke-dashoffset="0"/>
<line x1="1088" y1="530.5" x2="1334" y2="530.5" stroke-width="1.3" stroke-dasharray="11 7" stroke-dashoffset="0"/>
<path d="M1342.25,217.25 A77.25,67.5 0 0 1 1419.5,284.75" stroke-width="2.2" fill="none" />
<path d="M1342.25,260 A33,24.75 0 0 1 1375.25,284.75" stroke-width="2.2" fill="none" />
<line x1="1321.5" y1="238.7" x2="1324" y2="238.7" stroke-width="2.4" />
<line x1="1331.75" y1="238.7" x2="1351.25" y2="238.7" stroke-width="2.4" />
<line x1="1359.75" y1="238.7" x2="1362.25" y2="238.7" stroke-width="2.4" />
<line x1="1369.25" y1="238.7" x2="1389.5" y2="238.7" stroke-width="2.4" />
<line x1="1406.75" y1="238.7" x2="1418" y2="238.7" stroke-width="2.4" />
<rect x="1373" y="285.2" width="49.6" height="22.4" stroke-width="2.6" fill="#fff"/>
<polygon points="1424.50,296.50 1443.50,289.00 1443.50,304.00" fill="#000" stroke="none"/>
<line x1="1375.4" y1="307.5" x2="1375.4" y2="510.4" stroke-width="2.2" />
<line x1="1420" y1="307.5" x2="1420" y2="510.4" stroke-width="2.2" />
<rect x="1374.6" y="510.4" width="46.4" height="23.1" stroke-width="2.4" fill="#fff"/>
<path d="M1375.25,534 L1345.5,590" stroke-width="2.4" fill="none" />
<path d="M1376.3,534 L1376.3,580 Q1377,587 1384,588.5" stroke-width="2.4" fill="none" />
<line x1="1384.7" y1="534" x2="1384.7" y2="590" stroke-width="2.4" />
<line x1="1409.2" y1="534" x2="1390.3" y2="590" stroke-width="2.4" />
<line x1="1419" y1="534" x2="1420.5" y2="590" stroke-width="2.4" />
<rect x="1341.5" y="590" width="79.2" height="16.5" stroke-width="2.4" fill="#fff"/>
<rect x="1343.9" y="606.5" width="76.8" height="55.2" stroke-width="2.6" fill="#fff"/>
<rect x="1343.9" y="661.75" width="76.8" height="19.3" stroke-width="2.8" fill="#fff"/>
<line x1="1343.9" y1="685" x2="1420.7" y2="685" stroke-width="2.2" />
<path d="M1343.9,681 L1343.9,716.5 C1342.6,718 1342.4,724 1343.3,732 C1346.5,752 1362,766.3 1382.3,766.3 C1402.6,766.3 1418,752 1421.2,732 C1422,724 1422,718 1420.7,716.5 L1420.7,681" stroke-width="2.4" fill="none" />
<line x1="1334" y1="679.25" x2="1334" y2="780.75" stroke-width="1.3" stroke-dasharray="9 8 21 8 21 8 21 8 21 8" stroke-dashoffset="0"/>
<line x1="1430.2" y1="679.25" x2="1430.2" y2="780.75" stroke-width="1.3" stroke-dasharray="9 8 21 8 21 8 21 8 21 8" stroke-dashoffset="0"/>
<line x1="1334" y1="679.25" x2="1344" y2="679.25" stroke-width="1.3" stroke-dasharray="11 6" stroke-dashoffset="0"/>
<line x1="1421" y1="679.25" x2="1430.2" y2="679.25" stroke-width="1.3" stroke-dasharray="11 6" stroke-dashoffset="0"/>
<line x1="1334" y1="774.5" x2="1430.2" y2="774.5" stroke-width="1.3" stroke-dasharray="13 6.5" stroke-dashoffset="0"/>
<line x1="1334" y1="780.75" x2="1430.2" y2="780.75" stroke-width="1.3" stroke-dasharray="13 6.5" stroke-dashoffset="0"/>
</g>
</svg>
</body></html>
